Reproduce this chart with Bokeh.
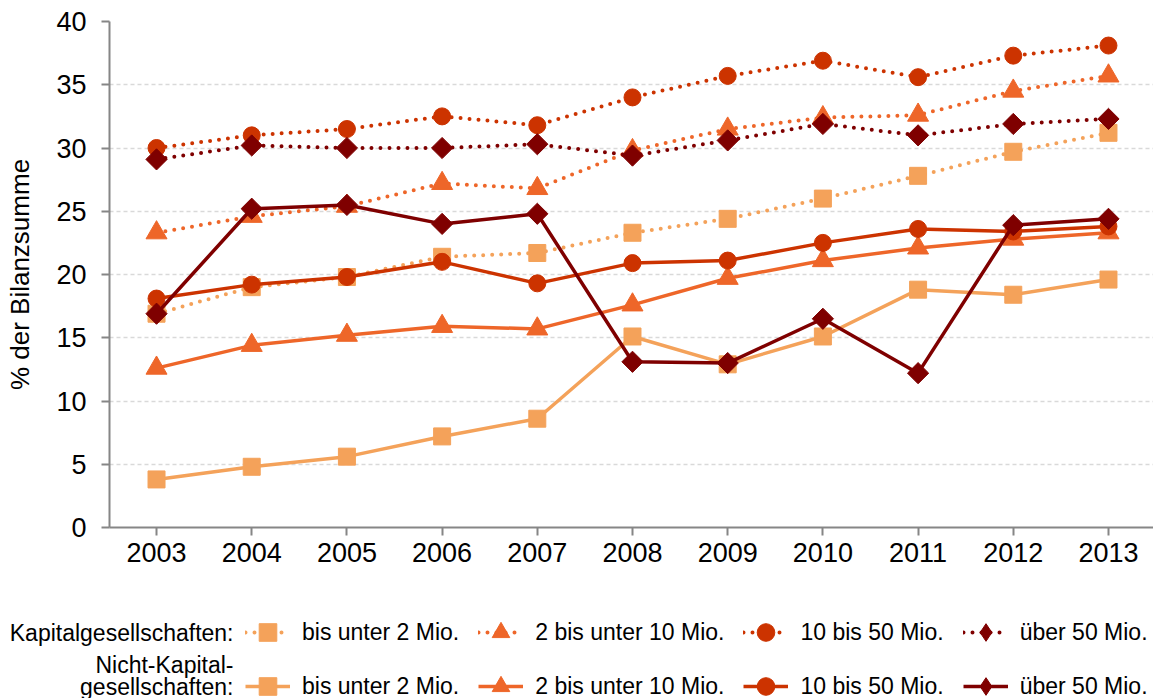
import numpy as np
from bokeh.plotting import figure
from bokeh.models import (Range1d, FixedTicker, Legend, LegendItem, Label)
from bokeh.embed import file_html
from bokeh.resources import INLINE

years = [2003, 2004, 2005, 2006, 2007, 2008, 2009, 2010, 2011, 2012, 2013]
y_ticks = [0, 5, 10, 15, 20, 25, 30, 35, 40]

size_labels = ["bis unter 2 Mio.", "2 bis unter 10 Mio.", "10 bis 50 Mio.", "über 50 Mio."]
group_labels = ["Kapitalgesellschaften:", "Nicht-Kapital-", "gesellschaften:"]

# Kapitalgesellschaften (dotted)
kap_bis2 = [16.9, 19.0, 19.8, 21.4, 21.7, 23.3, 24.4, 26.0, 27.8, 29.7, 31.2]
kap_2_10 = [23.3, 24.6, 25.4, 27.2, 26.8, 29.8, 31.5, 32.4, 32.6, 34.5, 35.7]
kap_10_50 = [30.0, 31.0, 31.5, 32.5, 31.8, 34.0, 35.7, 36.9, 35.6, 37.3, 38.1]
kap_ueber50 = [29.1, 30.2, 30.0, 30.0, 30.3, 29.4, 30.6, 31.9, 31.0, 31.9, 32.3]

# Nicht-Kapitalgesellschaften (solid)
nk_bis2 = [3.8, 4.8, 5.6, 7.2, 8.6, 15.1, 12.9, 15.1, 18.8, 18.4, 19.6]
nk_2_10 = [12.6, 14.4, 15.2, 15.9, 15.7, 17.6, 19.7, 21.1, 22.1, 22.8, 23.3]
nk_10_50 = [18.1, 19.2, 19.8, 21.0, 19.3, 20.9, 21.1, 22.5, 23.6, 23.4, 23.8]
nk_ueber50 = [16.9, 25.2, 25.5, 24.0, 24.8, 13.1, 13.0, 16.5, 12.2, 23.9, 24.4]

colors = ["#F4A25A", "#EE6629", "#CC3300", "#7F0000"]
markers = ["square", "triangle", "circle", "square"]
legend_markers = ["square", "triangle", "circle", "diamond"]
angles = [0, 0, 0, np.pi / 4]
msizes = [17, 21, 17, 15]

FONT = "Liberation Sans"
W = 1153
H_MAIN = 576
H_LEG = 122
FRAME_LEFT = 109

p = figure(width=W, height=H_MAIN, output_backend="svg", toolbar_location=None,
           x_range=Range1d(2002.506, 2013.473), y_range=Range1d(0, 40),
           min_border_left=FRAME_LEFT, min_border_right=0, min_border_top=21,
           min_border_bottom=49)
p.outline_line_color = None
p.background_fill_color = "white"
p.border_fill_color = "white"

p.xgrid.visible = False
p.ygrid.grid_line_color = "#D9D9D9"
p.ygrid.grid_line_dash = "4 3"
p.ygrid.grid_line_width = 1.5

p.xaxis.ticker = FixedTicker(ticks=years)
p.yaxis.ticker = FixedTicker(ticks=y_ticks)
for ax in (p.xaxis[0], p.yaxis[0]):
    ax.axis_line_color = "#868686"
    ax.axis_line_width = 2
    ax.major_tick_line_color = "#868686"
    ax.major_tick_line_width = 2
    ax.major_tick_in = 0
    ax.major_tick_out = 8
    ax.minor_tick_line_color = None
    ax.major_label_text_font = FONT
    ax.major_label_text_font_size = "27px"
    ax.major_label_text_color = "black"
p.xaxis.major_label_standoff = 7
p.yaxis.major_label_standoff = 15
p.yaxis.axis_label = "% der Bilanzsumme"
p.yaxis.axis_label_text_font = FONT
p.yaxis.axis_label_text_font_size = "26px"
p.yaxis.axis_label_text_font_style = "normal"
p.yaxis.axis_label_text_color = "black"
p.yaxis.axis_label_standoff = 18

kap_series = [kap_bis2, kap_2_10, kap_10_50, kap_ueber50]
nk_series = [nk_bis2, nk_2_10, nk_10_50, nk_ueber50]

# separate legend figure (own root, so its frame spans the full width)
q = figure(width=W, height=H_LEG, output_backend="svg", toolbar_location=None,
           x_range=Range1d(0, W), y_range=Range1d(H_LEG, 0),
           x_axis_type=None, y_axis_type=None, min_border=0)
q.outline_line_color = None
q.xgrid.visible = False
q.ygrid.visible = False
q.background_fill_color = "white"
q.border_fill_color = "white"

kap_items = []
nk_items = []
for group, dash, items in ((kap_series, "0 9", kap_items), (nk_series, "solid", nk_items)):
    for i, vals in enumerate(group):
        if dash == "solid":
            style = dict(line_color=colors[i], line_width=3.5)
        else:
            style = dict(line_color=colors[i], line_width=4, line_dash=dash, line_cap="round")
        mstyle = dict(size=msizes[i], fill_color=colors[i], line_color=colors[i])
        p.line(years, vals, **style)
        p.scatter(years, vals, marker=markers[i], angle=angles[i], **mstyle)
        # legend proxies (no visible data of their own)
        lr = q.line([np.nan], [np.nan], **style)
        sr = q.scatter([np.nan], [np.nan], marker=legend_markers[i], **mstyle)
        items.append(LegendItem(label=size_labels[i], renderers=[lr, sr]))

def make_legend(items, loc):
    return Legend(items=items, orientation="horizontal", location=loc,
                  glyph_width=45, glyph_height=44, label_height=44,
                  label_standoff=12, spacing=19, padding=0, margin=0,
                  border_line_color=None, background_fill_alpha=0,
                  label_text_font=FONT, label_text_font_size="23px",
                  label_text_color="black")

q.add_layout(make_legend(kap_items, (245, 44)))
q.add_layout(make_legend(nk_items, (245, -10)))

for txt, yy in zip(group_labels, (56, 88, 110)):
    q.add_layout(Label(x=233, y=yy, text=txt,
                       text_align="right", text_baseline="middle",
                       text_font=FONT, text_font_size="23px", text_color="black"))

open("out.html", "w").write(file_html([p, q], INLINE))
